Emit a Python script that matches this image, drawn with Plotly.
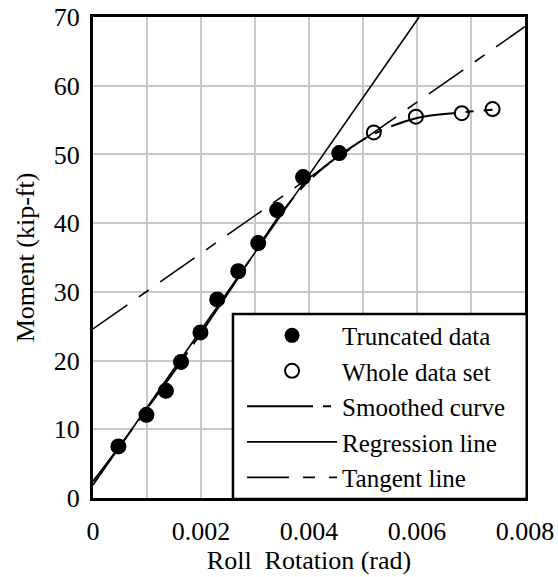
import plotly.graph_objects as go

# ---- data ----
trunc_x = [0.00047, 0.00099, 0.00135, 0.00163, 0.00199, 0.00230, 0.00269, 0.00306, 0.00341, 0.00389, 0.00456]
trunc_y = [7.5, 12.1, 15.6, 19.8, 24.1, 28.9, 33.0, 37.1, 41.9, 46.7, 50.2]

whole_x = [0.00047, 0.00099, 0.00135, 0.00163, 0.00199, 0.00230, 0.00269, 0.00306, 0.00341, 0.00389, 0.00456,
           0.00520, 0.00598, 0.00683, 0.00740]
whole_y = [7.5, 12.1, 15.6, 19.8, 24.1, 28.9, 33.0, 37.1, 41.9, 46.7, 50.2,
           53.2, 55.5, 56.0, 56.6]

smooth_x = [0.0, 0.0005, 0.0010, 0.0015, 0.0020, 0.0025, 0.0030, 0.0035, 0.0039, 0.0043, 0.0047, 0.0052, 0.0060, 0.0068, 0.0074]
smooth_y = [2.4, 7.6, 13.0, 18.4, 24.0, 29.8, 35.8, 41.6, 45.4, 48.3, 50.6, 53.0, 55.3, 56.1, 56.5]

regr_x = [0.0, 0.00604]
regr_y = [1.9, 70.0]

tang_x = [0.0, 0.008]
tang_y = [24.6, 68.6]

x_tickvals = [0, 0.002, 0.004, 0.006, 0.008]
x_ticktext = ["0", "0.002", "0.004", "0.006", "0.008"]
y_tickvals = [0, 10, 20, 30, 40, 50, 60, 70]

FONT = "Liberation Serif"

fig = go.Figure()

fig.add_trace(go.Scatter(
    x=whole_x, y=whole_y, mode="markers", name="Whole data set",
    marker=dict(symbol="circle-open", size=14, color="black", line=dict(width=2, color="black")),
    legendrank=2))
fig.add_trace(go.Scatter(
    x=smooth_x, y=smooth_y, mode="lines", name="Smoothed curve", line_shape="spline",
    line=dict(color="black", width=2, dash="66px,10px,8px,10px"),
    legendrank=3))
fig.add_trace(go.Scatter(
    x=regr_x, y=regr_y, mode="lines", name="Regression line",
    line=dict(color="black", width=1.6),
    legendrank=4))
fig.add_trace(go.Scatter(
    x=tang_x, y=tang_y, mode="lines", name="Tangent line",
    line=dict(color="black", width=1.6, dash="42px,14px,12px,14px"),
    legendrank=5))
fig.add_trace(go.Scatter(
    x=trunc_x, y=trunc_y, mode="markers", name="Truncated data",
    marker=dict(symbol="circle", size=15, color="black"),
    legendrank=1))

# legend box (white, bordered) behind the native legend
fig.add_shape(type="rect", xref="paper", yref="paper",
              x0=0.324, x1=1.004, y0=-0.002, y1=0.3825,
              fillcolor="white", line=dict(color="black", width=2.5), layer="above")

fig.update_layout(
    width=558, height=577,
    margin=dict(l=93, r=33, t=17, b=79),
    paper_bgcolor="white", plot_bgcolor="white",
    font=dict(family=FONT, size=26, color="black"),
    showlegend=True,
    legend=dict(x=0.345, y=0.19, xanchor="left", yanchor="middle",
                bgcolor="rgba(0,0,0,0)", borderwidth=0,
                font=dict(family=FONT, size=25, color="black"),
                itemwidth=90, tracegroupgap=0, traceorder="normal"),
    xaxis=dict(range=[0, 0.008], tickvals=x_tickvals, ticktext=x_ticktext,
               automargin=False,
               showgrid=True, gridcolor="#c8c8c8", gridwidth=1.5,
               minor=dict(dtick=0.001, showgrid=True, gridcolor="#c8c8c8", gridwidth=1.5),
               showline=True, linecolor="black", linewidth=3, mirror=True,
               ticks="", ticklabelstandoff=8, zeroline=False,
               tickfont=dict(family=FONT, size=26),
               title=dict(text="Roll  Rotation (rad)", standoff=0,
                          font=dict(family=FONT, size=26))),
    yaxis=dict(range=[0, 70], tickvals=y_tickvals,
               automargin=False,
               showgrid=True, gridcolor="#c8c8c8", gridwidth=1.5,
               showline=True, linecolor="black", linewidth=3, mirror=True,
               ticks="", ticklabelstandoff=5, zeroline=False,
               tickfont=dict(family=FONT, size=26),
               title=dict(text="Moment (kip-ft)", standoff=12,
                          font=dict(family=FONT, size=26))),
)

fig.write_html("out.html", config={"displayModeBar": False},
               post_script="document.body.style.margin='0px';")
